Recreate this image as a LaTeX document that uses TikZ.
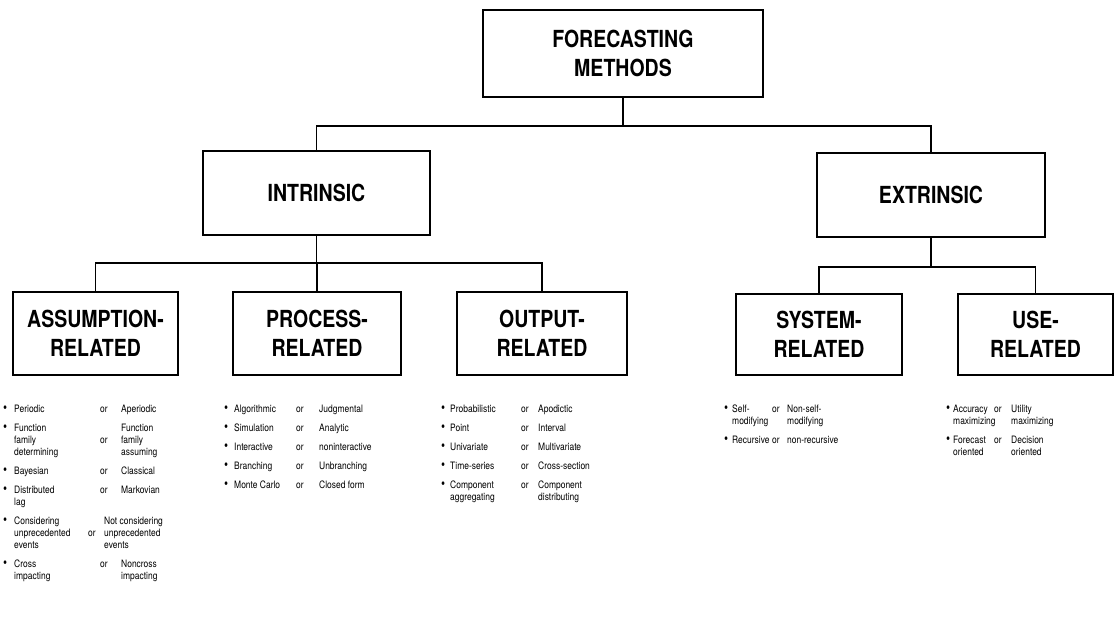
\documentclass[tikz,border=0pt]{standalone}
\usepackage{fontspec}
\setmainfont[FakeStretch=0.83]{TeX Gyre Heros}
\usepackage{tikz}
\usetikzlibrary{calc}

\newcommand{\dotitem}{{\fontsize{14}{12}\selectfont\textbullet}}

\tikzset{
	catbox/.style={draw, line width=1.5pt, inner sep=0pt, align=center,
		font=\bfseries\fontsize{23.5}{29.5}\selectfont},
	items/.style={inner sep=0pt, anchor=base west, font=\fontsize{10.2}{12}\selectfont},
	link/.style={line width=1.5pt}
}

\begin{document}
\begin{tikzpicture}[x=1pt,y=-1pt]
		\useasboundingbox (0,0) rectangle (1115,616);
		\node[catbox, minimum width=280, minimum height=87] (FM) at (623,53.5) {FORECASTING\\METHODS};
		\node[catbox, minimum width=227, minimum height=84] (INT) at (316.5,193) {INTRINSIC};
		\node[catbox, minimum width=228, minimum height=84] (EXT) at (931,195) {EXTRINSIC};
		\node[catbox, minimum width=165, minimum height=83] (ASM) at (95.5,333.5) {ASSUMPTION-\\RELATED};
		\node[catbox, minimum width=168, minimum height=83] (PRO) at (317,333.5) {PROCESS-\\RELATED};
		\node[catbox, minimum width=170, minimum height=83] (OUT) at (542,333.5) {OUTPUT-\\RELATED};
		\node[catbox, minimum width=166, minimum height=81] (SYS) at (819,334.5) {SYSTEM-\\RELATED};
		\node[catbox, minimum width=155, minimum height=81] (USE) at (1035.5,334.5) {USE-\\RELATED};
%
		\coordinate (B1) at ($(FM.south)+(0,28)$);
		\coordinate (B2) at ($(INT.south)+(0,27)$);
		\coordinate (B3) at ($(EXT.south)+(0,29)$);
		\draw[link] (FM.south) -- (B1) -| (INT.north);
		\draw[link] (B1) -| (EXT.north);
		\draw[link] (INT.south) -- (B2) -| (ASM.north);
		\draw[link] (B2) -| (PRO.north);
		\draw[link] (B2) -| (OUT.north);
		\draw[link] (EXT.south) -- (B3) -| (SYS.north);
		\draw[link] (B3) -| (USE.north);
%
		\node[items] (ASMlist) at (3,412) {\begin{tabular}[t]{@{}p{11pt}@{}p{86pt}@{}p{21pt}@{}l@{}}
			\dotitem & Periodic & or & Aperiodic\\[7pt]
			\dotitem & Function & & Function\\
			& family & or & family\\
			& determining & & assuming\\[7pt]
			\dotitem & Bayesian & or & Classical\\[7pt]
			\dotitem & Distributed & or & Markovian\\
			& lag & & \\[7pt]
			\dotitem & Considering & & \hspace*{-17pt}Not considering\\
			& unprecedented & \hspace*{-12pt}or & \hspace*{-17pt}unprecedented\\
			& events & & \hspace*{-17pt}events\\[7pt]
			\dotitem & Cross & or & Noncross\\
			& impacting & & impacting
		\end{tabular}};
		\node[items] (PROlist) at (224,412) {\begin{tabular}[t]{@{}p{10pt}@{}p{62pt}@{}p{23pt}@{}l@{}}
			\dotitem & Algorithmic & or & Judgmental\\[7pt]
			\dotitem & Simulation & or & Analytic\\[7pt]
			\dotitem & Interactive & or & noninteractive\\[7pt]
			\dotitem & Branching & or & Unbranching\\[7pt]
			\dotitem & Monte Carlo & or & Closed form
		\end{tabular}};
		\node[items] (OUTlist) at (441,412) {\begin{tabular}[t]{@{}p{9pt}@{}p{71pt}@{}p{17pt}@{}l@{}}
			\dotitem & Probabilistic & or & Apodictic\\[7pt]
			\dotitem & Point & or & Interval\\[7pt]
			\dotitem & Univariate & or & Multivariate\\[7pt]
			\dotitem & Time-series & or & Cross-section\\[7pt]
			\dotitem & Component & or & Component\\
			& aggregating & & distributing
		\end{tabular}};
		\node[items] (SYSlist) at (724,412) {\begin{tabular}[t]{@{}p{8pt}@{}p{40pt}@{}p{15pt}@{}l@{}}
			\dotitem & Self- & or & Non-self-\\
			& modifying & & modifying\\[7pt]
			\dotitem & Recursive & or & non-recursive
		\end{tabular}};
		\node[items] (USElist) at (946,412) {\begin{tabular}[t]{@{}p{7pt}@{}p{41pt}@{}p{17pt}@{}l@{}}
			\dotitem & Accuracy & or & Utility\\
			& maximizing & & maximizing\\[7pt]
			\dotitem & Forecast & or & Decision\\
			& oriented & & oriented
		\end{tabular}};
	\end{tikzpicture}
\end{document}
